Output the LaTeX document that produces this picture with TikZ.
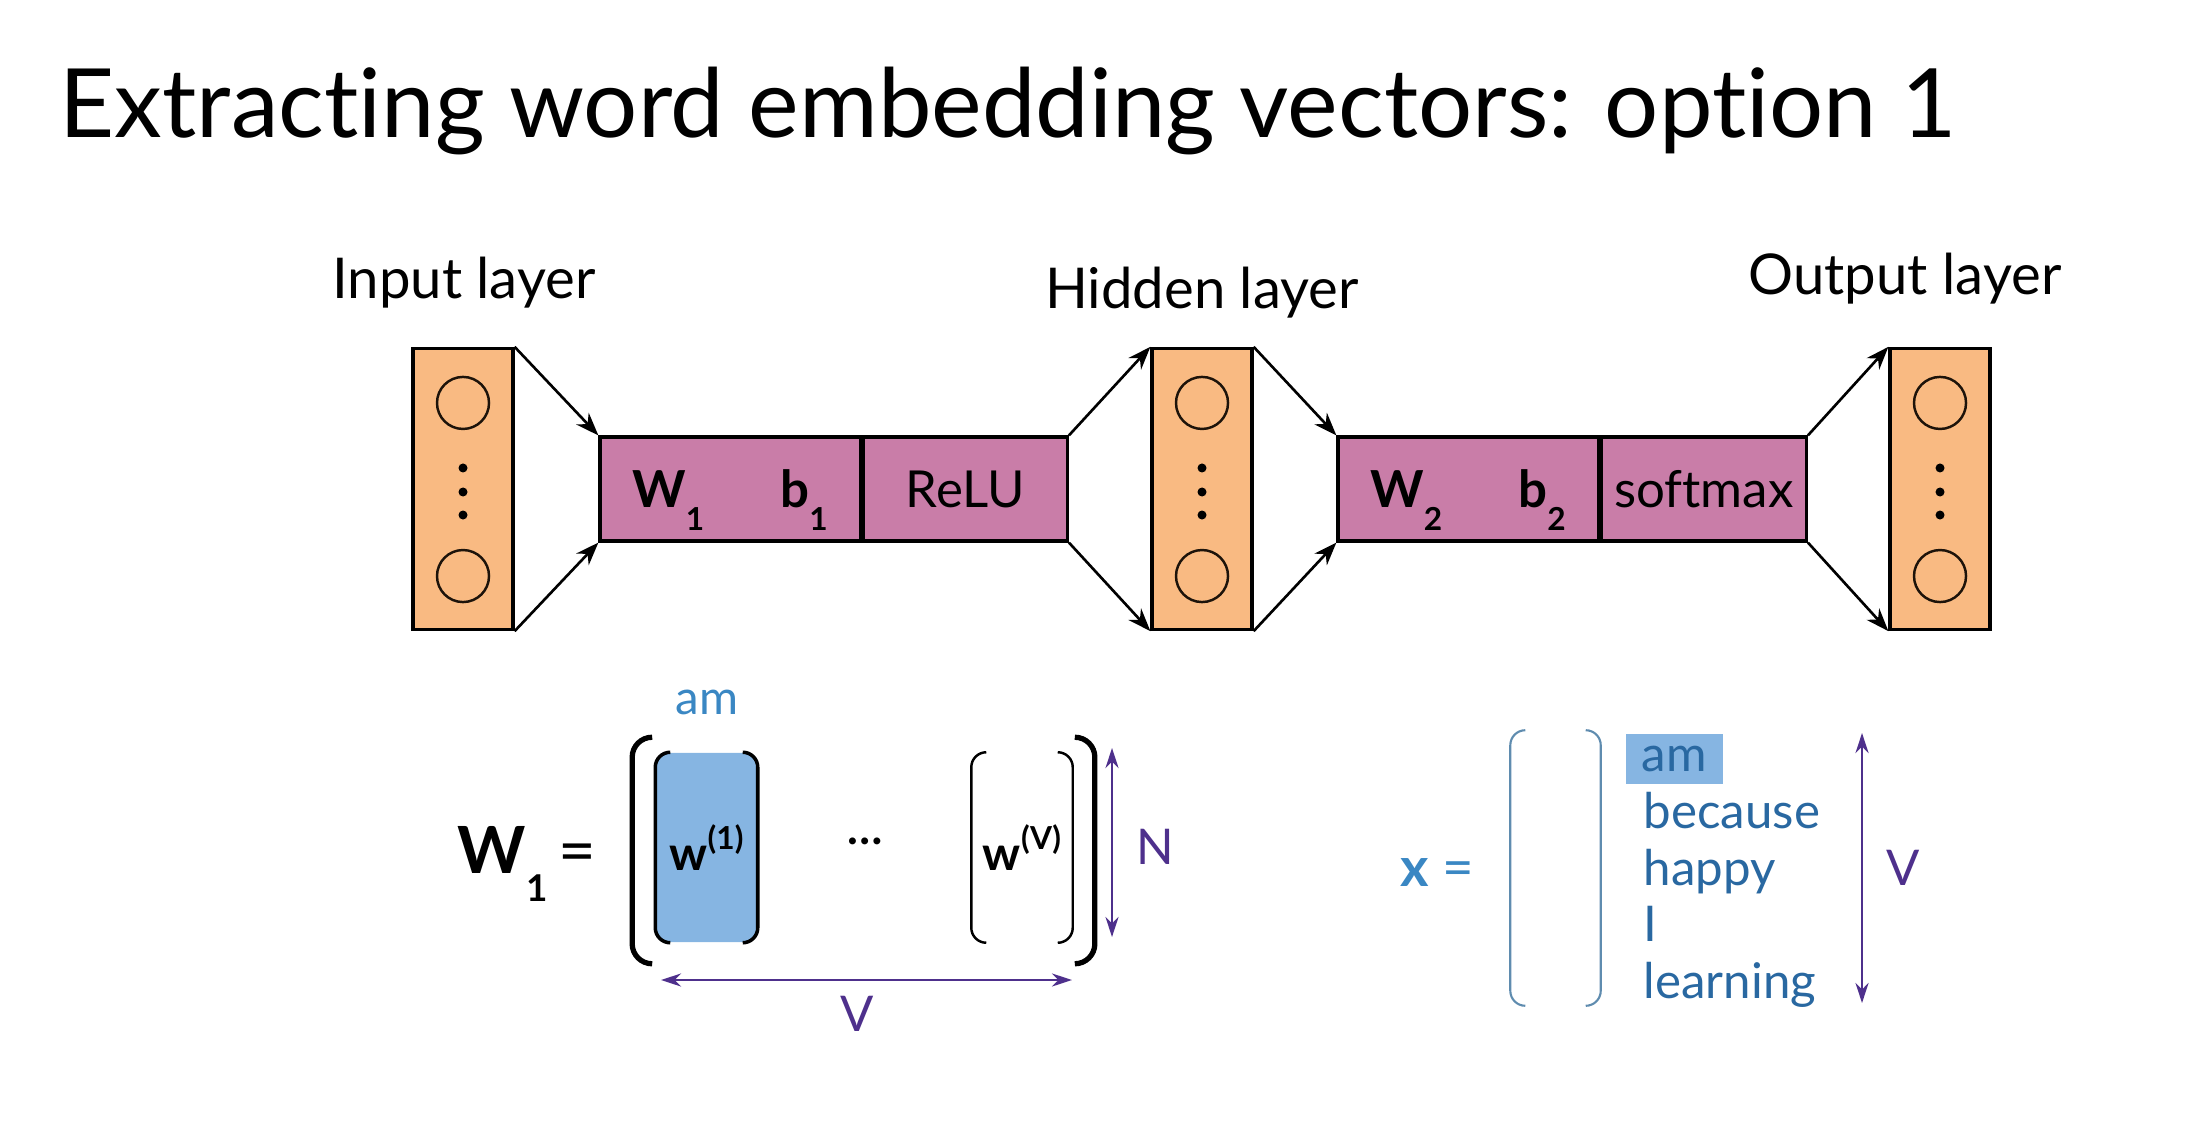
\documentclass[tikz,border=0pt]{standalone}
\usepackage{fontspec}
\setmainfont{Lato}[Ligatures=NoCommon]
\usetikzlibrary{arrows.meta,positioning}
\definecolor{layerorange}{RGB}{249,186,130}
\definecolor{opmagenta}{RGB}{201,125,168}
\definecolor{colblue}{RGB}{134,181,226}
\definecolor{wordblue}{RGB}{41,104,161}
\definecolor{amblue}{RGB}{58,135,195}
\definecolor{dimpurple}{RGB}{78,48,140}
\definecolor{brackblue}{RGB}{95,140,175}

% bold letter with a low subscript: letter, index, index size, drop
\newcommand{\lowsub}[4]{\textbf{#1}\smash{\raisebox{-#4}{\fontsize{#3}{#3}\selectfont\textbf{#2}}}}
% column vector w^(i)
\newcommand{\wcol}[1]{\textbf{w}\raisebox{0.85ex}{\fontsize{9pt}{10pt}\selectfont\textbf{(#1)}}}
% square brackets with rounded ends round a node
\newcommand{\vbrackets}[3][]{%
  \draw[#1, rounded corners=#3] ([xshift=#3]#2.north west) -- (#2.north west) -- (#2.south west) -- ([xshift=#3]#2.south west);
  \draw[#1, rounded corners=#3] ([xshift=-#3]#2.north east) -- (#2.north east) -- (#2.south east) -- ([xshift=-#3]#2.south east);
}

\begin{document}
\begin{tikzpicture}[x=0.01cm, y=-0.01cm,
  layer/.style={draw, line width=0.9pt, fill=layerorange, minimum width=1.0cm, minimum height=2.81cm, inner sep=0pt},
  neuron/.style={draw=black!85!brown, line width=0.7pt, circle, minimum size=0.52cm, inner sep=0pt},
  unitdot/.style={circle, fill=black, minimum size=0.09cm, inner sep=0pt},
  op/.style={draw, line width=0.9pt, fill=opmagenta, minimum height=1.04cm, inner sep=0pt, font=\fontsize{14.5pt}{17pt}\selectfont},
  flow/.style={-{Stealth[length=0.23cm, width=0.17cm]}, line width=0.75pt},
  dim/.style={{Stealth[length=0.2cm, width=0.13cm]}-{Stealth[length=0.2cm, width=0.13cm]}, line width=0.7pt, draw=dimpurple},
  lbl/.style={font=\fontsize{16pt}{19pt}\selectfont},
  word/.style={font=\fontsize{14pt}{16pt}\selectfont, text=wordblue, anchor=base west, inner sep=0pt},
  dimlbl/.style={font=\fontsize{14pt}{16pt}\selectfont, text=dimpurple, inner sep=0pt}]
\useasboundingbox (0,0) rectangle (2204,1125);

% Title
\node[font=\fontsize{27.2pt}{31pt}\selectfont, anchor=base west, inner sep=0pt] (title) at (59,138) {Extracting word embedding vectors: option 1};

% Layers
\node[layer] (inl) at (463,489) {};
\node[layer] (hidl) at (1202,489) {};
\node[layer] (outl) at (1940,489) {};
\foreach \lay in {inl,hidl,outl} {
  \node[neuron] (\lay-top) at ([yshift=0.86cm]\lay.center) {};
  \node[neuron] (\lay-bot) at ([yshift=-0.87cm]\lay.center) {};
  \foreach \dy [count=\i] in {0.21,-0.03,-0.26}
    \node[unitdot] (\lay-dot\i) at ([yshift=\dy cm]\lay.center) {};
}

% Layer labels
\node[lbl, anchor=base] (inlab) at (464,299) {Input layer};
\node[lbl, anchor=base] (hidlab) at (1202,309) {Hidden layer};
\node[lbl, anchor=base] (outlab) at (1905,295) {Output layer};

% Operations
\node[op, minimum width=2.6cm] (wb1) at (730,489) {\lowsub{W}{1}{9pt}{6.6pt}\hspace{0.76cm}\lowsub{b}{1}{9pt}{6.6pt}};
\node[op, minimum width=2.04cm, right=0pt of wb1] (relu) {ReLU};
\node[op, minimum width=2.6cm] (wb2) at (1468,489) {\lowsub{W}{2}{9pt}{6.6pt}\hspace{0.76cm}\lowsub{b}{2}{9pt}{6.6pt}};
\node[op, minimum width=2.05cm, right=0pt of wb2] (smax) {softmax};

% Arrows
\draw[flow] (inl.north east) -- (wb1.north west);
\draw[flow] (inl.south east) -- (wb1.south west);
\draw[flow] (relu.north east) -- (hidl.north west);
\draw[flow] (relu.south east) -- (hidl.south west);
\draw[flow] (hidl.north east) -- (wb2.north west);
\draw[flow] (hidl.south east) -- (wb2.south west);
\draw[flow] (smax.north east) -- (outl.north west);
\draw[flow] (smax.south east) -- (outl.south west);

% W_1 matrix
\node[font=\fontsize{18.5pt}{21pt}\selectfont, anchor=east, inner sep=0pt] (w1eq) at (597,850) {\lowsub{W}{1}{10.5pt}{8pt}\hspace{0.11cm}=};
\node[minimum width=4.61cm, minimum height=2.25cm, inner sep=0pt] (wmat) at (863.5,850.5) {};
\vbrackets[line width=1.5pt]{wmat}{0.2cm}
\node[fill=colblue, rounded corners=0.15cm, minimum width=1.01cm, minimum height=1.89cm, inner sep=0pt, font=\fontsize{13.5pt}{15pt}\selectfont] (col1) at (706.5,847.5) {\wcol{1}};
\vbrackets[line width=1pt]{col1}{0.15cm}
\node[minimum width=1.0cm, minimum height=1.89cm, inner sep=0pt, font=\fontsize{13.5pt}{15pt}\selectfont] (colV) at (1022,847.5) {\wcol{V}};
\vbrackets[line width=0.7pt]{colV}{0.15cm}
\node[font=\fontsize{13pt}{15pt}\selectfont\bfseries, anchor=base] (hdots) at (865,844) {…};
\node[font=\fontsize{13.5pt}{15pt}\selectfont, text=amblue, anchor=base] (amtop) at (707,714) {am};

% Dimensions of W_1
\coordinate (ntop) at (1112,748);
\coordinate (nbot) at (1112,937);
\draw[dim] (ntop) -- (nbot);
\node[dimlbl] (nlab) at (1155,847) {N};
\coordinate (vleft) at (661,980);
\coordinate (vright) at (1072,980);
\draw[dim] (vleft) -- (vright);
\node[dimlbl] (vlab) at (857,1014) {V};

% One-hot vector x
\node[font=\fontsize{15.5pt}{18pt}\selectfont, text=amblue, anchor=east, inner sep=0pt] (xeq) at (1475,873) {\textbf{x} =};
\node[minimum width=0.89cm, minimum height=2.74cm, inner sep=0pt] (xvec) at (1555.5,868) {};
\vbrackets[line width=0.6pt, draw=brackblue]{xvec}{0.15cm}
\node[word, fill=colblue, inner xsep=0.16cm, inner ysep=0pt, minimum height=0.5cm, anchor=west] (wam) at (1625,759) {am};
\node[word] (wbecause) at (1643,828) {because};
\node[word] (whappy) at (1643,885) {happy};
\node[word] (wi) at (1643,941) {I};
\node[word] (wlearning) at (1643,998) {learning};
\coordinate (xvtop) at (1862,733);
\coordinate (xvbot) at (1862,1003);
\draw[dim] (xvtop) -- (xvbot);
\node[dimlbl] (xvlab) at (1903,868) {V};
\end{tikzpicture}
\end{document}
